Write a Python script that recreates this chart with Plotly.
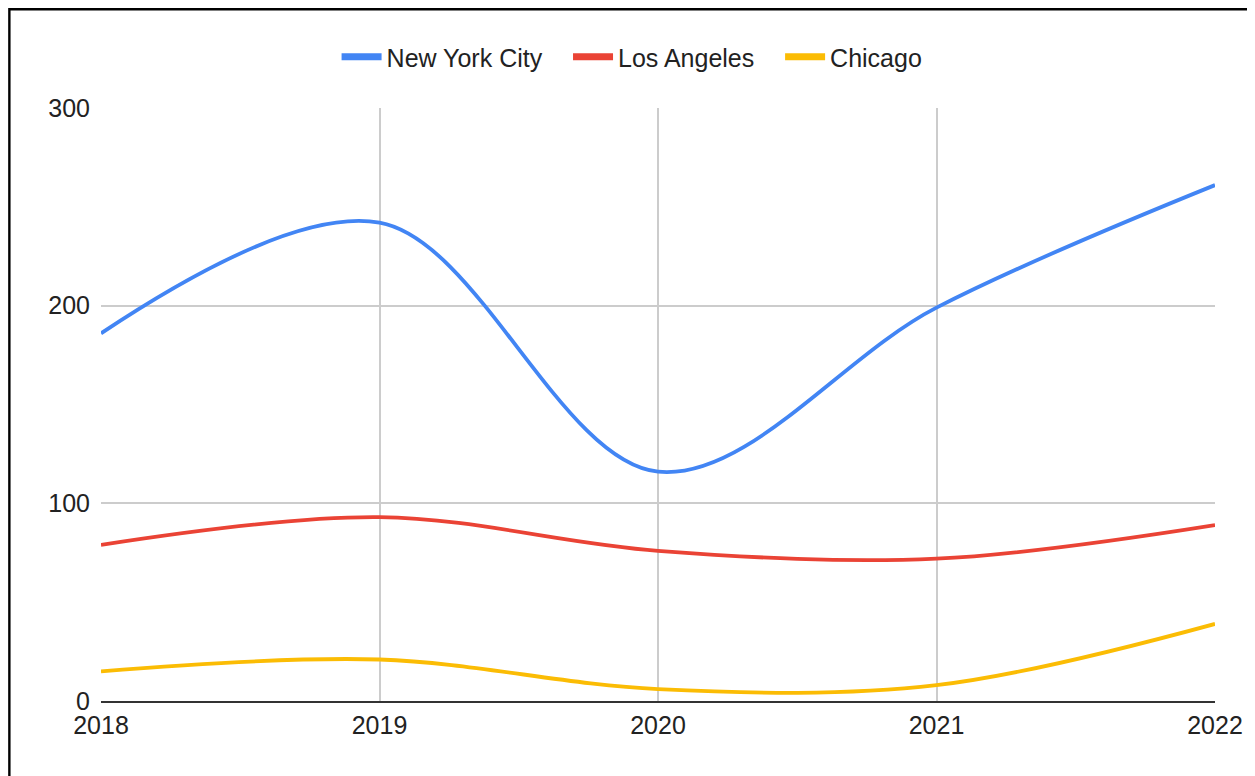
import plotly.graph_objects as go

years = [2018, 2019, 2020, 2021, 2022]
series_names = ["New York City", "Los Angeles", "Chicago"]
nyc = [186, 242, 116, 199, 261]
la = [79, 93, 76, 72, 89]
chicago = [15, 21, 6, 8, 39]
colors = ["#4285F4", "#EA4335", "#FBBC04"]
y_ticks = [0, 100, 200, 300]

# page is offset by the 8px body margin
OFF = 8
W, H = 1255 - OFF, 776 - OFF
L, R, T, B = 101 - OFF, 38, 108 - OFF, 75
pw, ph = W - L - R, H - T - B

def px_to_paper_x(px):
    return (px - OFF - L) / pw

def px_to_paper_y(py):
    return (H - B - (py - OFF)) / ph

FONT = "Liberation Sans, Arial, sans-serif"
FS = 25

fig = go.Figure()
for name, vals, c in zip(series_names, [nyc, la, chicago], colors):
    fig.add_trace(go.Scatter(
        x=years, y=vals, mode="lines", name=name,
        line=dict(color=c, width=3.8, shape="spline", smoothing=1.0),
        showlegend=False, hoverinfo="x+y+name"))
# legend-only entries with thick short bars
for name, c in zip(series_names, colors):
    fig.add_trace(go.Scatter(
        x=[None], y=[None], mode="lines", name=name + "\u00a0" * 3,
        line=dict(color=c, width=7), showlegend=True))

fig.update_layout(
    width=W, height=H,
    margin=dict(l=L, r=R, t=T, b=B, pad=0),
    paper_bgcolor="white",
    plot_bgcolor="rgba(0,0,0,0)",
    font=dict(family=FONT, size=FS, color="#222222"),
    showlegend=True,
    legend=dict(orientation="h", xanchor="left", yanchor="middle",
                x=px_to_paper_x(337), y=px_to_paper_y(57),
                font=dict(family=FONT, size=FS, color="#222222"),
                bgcolor="rgba(0,0,0,0)", itemwidth=40),
    xaxis=dict(range=[2018, 2022], tickmode="array", tickvals=years,
               ticktext=[str(y) for y in years],
               showgrid=True, gridcolor="#cccccc", gridwidth=1.5,
               zeroline=False, showline=True, linecolor="#333333", linewidth=2,
               ticks="", ticklabelstandoff=1,
               tickfont=dict(family=FONT, size=FS, color="#222222")),
    yaxis=dict(range=[0, 300], tickmode="array", tickvals=y_ticks,
               showgrid=True, gridcolor="#cccccc", gridwidth=1.5,
               zeroline=False, showline=False, ticks="", ticklabelstandoff=10,
               tickfont=dict(family=FONT, size=FS, color="#222222")),
    shapes=[dict(type="rect", xref="paper", yref="paper", layer="below",
                 x0=px_to_paper_x(OFF + 1.2), x1=px_to_paper_x(1255 + 40),
                 y0=px_to_paper_y(776 + 40), y1=px_to_paper_y(OFF + 1.2),
                 fillcolor="white", line=dict(color="black", width=2.4))],
)

fig.write_html("out.html")
